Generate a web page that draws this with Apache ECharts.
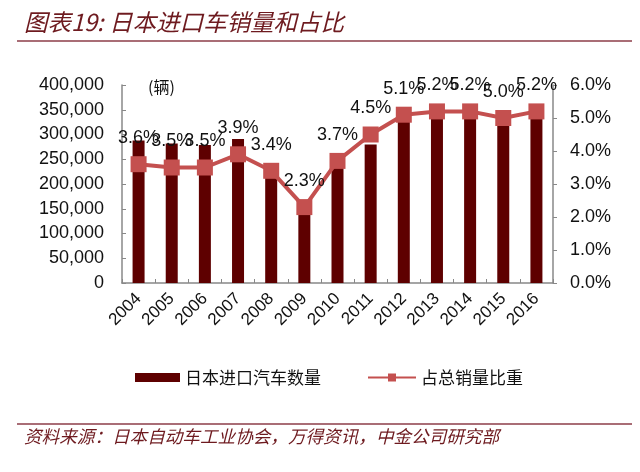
<!DOCTYPE html>
<html>
<head>
<meta charset="utf-8">
<script src="https://cdn.jsdelivr.net/npm/echarts@6/dist/echarts.min.js"></script>
<style>html,body{margin:0;padding:0;background:#fff}#c{width:640px;height:472px}</style>
</head>
<body>
<div id="c"></div>
<script>
const years = ['2004','2005','2006','2007','2008','2009','2010','2011','2012','2013','2014','2015','2016'];
const importUnits = [288000, 282000, 279000, 291000, 215000, 150000, 240000, 280000, 330000, 345000, 340000, 320000, 335000];
const sharePct = [3.6, 3.5, 3.5, 3.9, 3.4, 2.3, 3.7, 4.5, 5.1, 5.2, 5.2, 5.0, 5.2];
const barName = '日本进口汽车数量';
const lineName = '占总销量比重';
const titleText = '图表19: 日本进口车销量和占比';
const sourceText = '资料来源：日本自动车工业协会，万得资讯，中金公司研究部';
const unitText = '(辆)';

const chart = echarts.init(document.getElementById('c'), null, {renderer: 'canvas'});
const axisFont = 'Liberation Sans, Arial, sans-serif';
const cjkFont = '"Noto Sans CJK SC", sans-serif';
const darkRed = '#6e1a1f';

chart.setOption({
  animation: false,
  backgroundColor: '#fff',
  grid: {left: 122, right: 87, top: 85, bottom: 189, containLabel: false},
  legend: [
    {left: 130, top: 364, itemWidth: 45, itemHeight: 9, itemGap: 10,
     data: [{name: barName, icon: 'rect'}],
     textStyle: {fontFamily: cjkFont, fontSize: 17, color: '#111'}},
    {left: 362, top: 364, itemWidth: 48, itemHeight: 10, itemGap: 10,
     data: [{name: lineName}],
     textStyle: {fontFamily: cjkFont, fontSize: 17, color: '#111'}}
  ],
  xAxis: {
    type: 'category', data: years,
    axisLine: {lineStyle: {color: '#888', width: 1.5}},
    axisTick: {show: true, inside: true, length: 4, alignWithLabel: false, lineStyle: {color: '#888'}},
    axisLabel: {rotate: 45, fontSize: 17, color: '#111', fontFamily: axisFont, margin: 13, interval: 0}
  },
  yAxis: [
    {type: 'value', min: 0, max: 400000, interval: 50000,
     splitLine: {show: false},
     axisLine: {show: true, lineStyle: {color: '#888', width: 1.5}},
     axisTick: {show: true, inside: true, length: 4, lineStyle: {color: '#888'}},
     axisLabel: {fontSize: 18, color: '#111', fontFamily: axisFont, margin: 18,
       formatter: v => v.toLocaleString('en-US')}},
    {type: 'value', min: 0, max: 6, interval: 1,
     splitLine: {show: false},
     axisLine: {show: true, lineStyle: {color: '#888', width: 1.5}},
     axisTick: {show: true, inside: false, length: 4, lineStyle: {color: '#888'}},
     axisLabel: {fontSize: 18, color: '#111', fontFamily: axisFont, margin: 17,
       formatter: v => v.toFixed(1) + '%'}}
  ],
  series: [
    {name: barName, type: 'bar', data: importUnits, yAxisIndex: 0, barWidth: 12,
     itemStyle: {color: '#5e0000'}},
    {name: lineName, type: 'line', data: sharePct, yAxisIndex: 1,
     symbol: 'rect', symbolSize: 16,
     lineStyle: {color: '#c4504f', width: 4},
     itemStyle: {color: '#c4504f'},
     label: {show: true, position: 'top', distance: 9, fontSize: 18, color: '#111',
       fontFamily: axisFont, formatter: p => p.value.toFixed(1) + '%'},
     z: 5}
  ],
  graphic: [
    {type: 'text', left: 24, top: 10,
     style: {text: titleText, font: 'italic 23.5px "Noto Sans CJK SC", sans-serif', fill: darkRed}},
    {type: 'line', shape: {x1: 17, y1: 41, x2: 632, y2: 41}, style: {stroke: '#8c3d48', lineWidth: 1.5}},
    {type: 'line', shape: {x1: 17, y1: 424, x2: 632, y2: 424}, style: {stroke: '#8c3d48', lineWidth: 1.5}},
    {type: 'text', left: 24, top: 428,
     style: {text: sourceText, font: 'italic 17.6px "Noto Sans CJK SC", sans-serif', fill: darkRed}},
    {type: 'text', left: 148, top: 79,
     style: {text: unitText, font: '16px "Noto Sans CJK SC", sans-serif', fill: '#111'}}
  ]
});
</script>
</body>
</html>
